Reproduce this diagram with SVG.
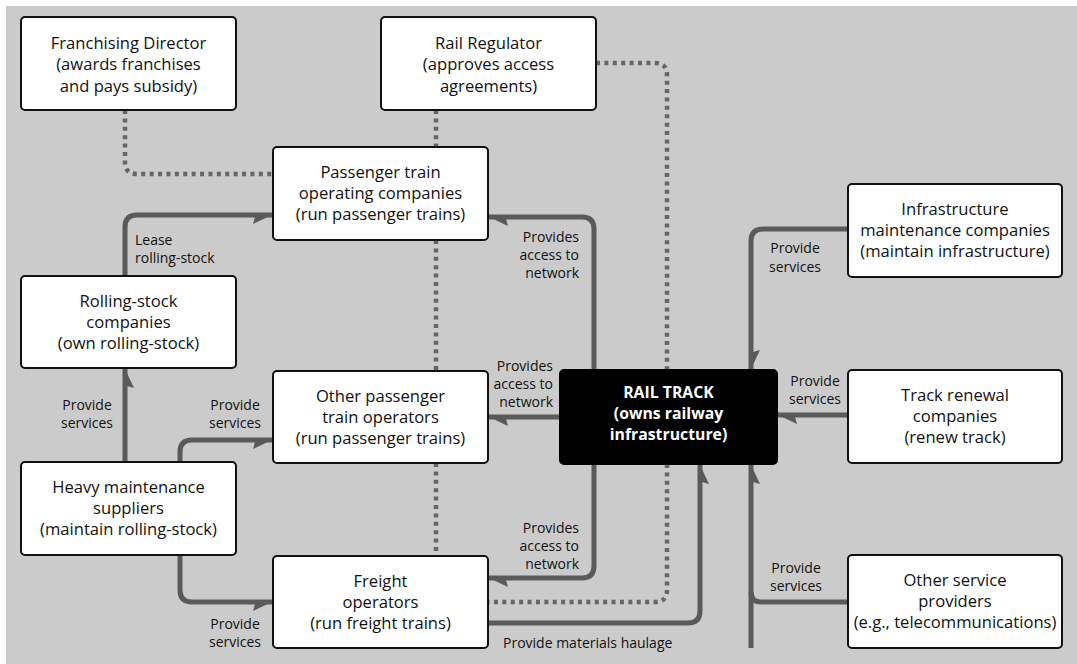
<svg xmlns="http://www.w3.org/2000/svg" width="1077" height="664" viewBox="0 0 1077 664">
<style>
.box{fill:#fff;stroke:#111;stroke-width:2}
.rt{fill:#000;stroke:#000;stroke-width:2}
.nt{font-family:"Open Sans","Noto Sans",sans-serif;font-size:16.6px;fill:#111;text-anchor:middle}
.rtt{font-family:"Open Sans","Noto Sans",sans-serif;font-size:15.8px;fill:#fff;font-weight:bold;text-anchor:middle}
.lb{font-family:"Open Sans","Noto Sans",sans-serif;font-size:14px;fill:#111}
.c{text-anchor:middle}.r{text-anchor:end}
.sol{fill:none;stroke:#5a5a5a;stroke-width:5}
.dot{fill:none;stroke:#666;stroke-width:4.5;stroke-dasharray:4 4.4}
</style>
<defs>
<marker id="aR" markerUnits="userSpaceOnUse" viewBox="-20 -10 22 20" markerWidth="22" markerHeight="20" refX="0" refY="0" orient="auto">
<path d="M0,0 L-17,2 L-19,9 Z" fill="#5a5a5a"/>
</marker>
<marker id="aL" markerUnits="userSpaceOnUse" viewBox="-20 -10 22 20" markerWidth="22" markerHeight="20" refX="0" refY="0" orient="auto">
<path d="M0,0 L-17,-2 L-19,-9 Z" fill="#5a5a5a"/>
</marker>
</defs>
<rect x="0" y="0" width="1077" height="664" fill="#fff"/>
<rect x="6" y="6" width="1071" height="658" fill="#cbcbcb"/>
<g id="connectors">
<path class="dot" d="M125,110 V162 Q125,174 137,174 H273"/>
<path class="dot" d="M436,110 V147"/>
<path class="dot" d="M596,63 H655 Q667,63 667,75 V369"/>
<path class="dot" d="M436,240 V371"/>
<path class="dot" d="M436,463 V556"/>
<path class="dot" d="M667,464 V590 Q667,602 655,602 H488"/>
<path class="sol" d="M125,276 V227 Q125,215 137,215 H272" marker-end="url(#aR)"/>
<path class="sol" d="M125,462 V369" marker-end="url(#aR)"/>
<path class="sol" d="M180,462 V452 Q180,440 192,440 H272" marker-end="url(#aR)"/>
<path class="sol" d="M180,555 V590 Q180,602 192,602 H272" marker-end="url(#aR)"/>
<path class="sol" d="M594,370 V229 Q594,217 582,217 H489" marker-end="url(#aL)"/>
<path class="sol" d="M560,417 H489" marker-end="url(#aL)"/>
<path class="sol" d="M594,464 V566 Q594,578 582,578 H489" marker-end="url(#aL)"/>
<path class="sol" d="M488,623 H688 Q700,623 700,611 V465" marker-end="url(#aR)"/>
<path class="sol" d="M848,229 H763 Q751,229 751,241 V369" marker-end="url(#aL)"/>
<path class="sol" d="M848,415 H778" marker-end="url(#aL)"/>
<path class="sol" d="M751,648 V465" marker-end="url(#aR)"/>
<path class="sol" d="M848,602 H761 Q751,602 751,592"/>
<text class="lb" x="135" y="245">Lease</text>
<text class="lb" x="135" y="263">rolling-stock</text>
<text class="lb c" x="87" y="410">Provide</text>
<text class="lb c" x="87" y="428">services</text>
<text class="lb c" x="235" y="410">Provide</text>
<text class="lb c" x="235" y="428">services</text>
<text class="lb c" x="235" y="629">Provide</text>
<text class="lb c" x="235" y="647">services</text>
<text class="lb r" x="579" y="242">Provides</text>
<text class="lb r" x="579" y="260">access to</text>
<text class="lb r" x="579" y="278">network</text>
<text class="lb r" x="553" y="371">Provides</text>
<text class="lb r" x="553" y="389">access to</text>
<text class="lb r" x="553" y="407">network</text>
<text class="lb r" x="579" y="533">Provides</text>
<text class="lb r" x="579" y="551">access to</text>
<text class="lb r" x="579" y="569">network</text>
<text class="lb" x="503" y="648">Provide materials haulage</text>
<text class="lb c" x="795" y="253">Provide</text>
<text class="lb c" x="795" y="272">services</text>
<text class="lb c" x="815" y="386">Provide</text>
<text class="lb c" x="815" y="404">services</text>
<text class="lb c" x="796" y="573">Provide</text>
<text class="lb c" x="796" y="591">services</text>
</g>
<g id="franchising-director">
<rect class="box" x="21" y="17" width="215" height="93" rx="4"/>
<text class="nt" x="128.5" y="49">Franchising Director</text>
<text class="nt" x="128.5" y="70">(awards franchises</text>
<text class="nt" x="128.5" y="92">and pays subsidy)</text>
</g>
<g id="rail-regulator">
<rect class="box" x="381" y="17" width="215" height="93" rx="4"/>
<text class="nt" x="488.5" y="49">Rail Regulator</text>
<text class="nt" x="488.5" y="70">(approves access</text>
<text class="nt" x="488.5" y="92">agreements)</text>
</g>
<g id="passenger-toc">
<rect class="box" x="273" y="147" width="215" height="93" rx="4"/>
<text class="nt" x="380.5" y="178">Passenger train</text>
<text class="nt" x="380.5" y="199">operating companies</text>
<text class="nt" x="380.5" y="220">(run passenger trains)</text>
</g>
<g id="infrastructure-maintenance">
<rect class="box" x="848" y="184" width="214" height="93" rx="4"/>
<text class="nt" x="955" y="215">Infrastructure</text>
<text class="nt" x="955" y="236">maintenance companies</text>
<text class="nt" x="955" y="257">(maintain infrastructure)</text>
</g>
<g id="rolling-stock">
<rect class="box" x="21" y="276" width="215" height="92" rx="4"/>
<text class="nt" x="128.5" y="307">Rolling-stock</text>
<text class="nt" x="128.5" y="328">companies</text>
<text class="nt" x="128.5" y="349">(own rolling-stock)</text>
</g>
<g id="other-passenger">
<rect class="box" x="273" y="371" width="215" height="92" rx="4"/>
<text class="nt" x="380.5" y="402">Other passenger</text>
<text class="nt" x="380.5" y="423">train operators</text>
<text class="nt" x="380.5" y="444">(run passenger trains)</text>
</g>
<g id="rail-track">
<rect class="rt" x="560" y="370" width="217" height="94" rx="4"/>
<text class="rtt" x="668.5" y="398">RAIL TRACK</text>
<text class="rtt" x="668.5" y="419">(owns railway</text>
<text class="rtt" x="668.5" y="440">infrastructure)</text>
</g>
<g id="track-renewal">
<rect class="box" x="848" y="370" width="214" height="93" rx="4"/>
<text class="nt" x="955" y="401">Track renewal</text>
<text class="nt" x="955" y="422">companies</text>
<text class="nt" x="955" y="443">(renew track)</text>
</g>
<g id="heavy-maintenance">
<rect class="box" x="21" y="462" width="215" height="93" rx="4"/>
<text class="nt" x="128.5" y="493">Heavy maintenance</text>
<text class="nt" x="128.5" y="514">suppliers</text>
<text class="nt" x="128.5" y="535">(maintain rolling-stock)</text>
</g>
<g id="freight-operators">
<rect class="box" x="273" y="556" width="215" height="92" rx="4"/>
<text class="nt" x="380.5" y="587">Freight</text>
<text class="nt" x="380.5" y="608">operators</text>
<text class="nt" x="380.5" y="629">(run freight trains)</text>
</g>
<g id="other-service-providers">
<rect class="box" x="848" y="555" width="214" height="93" rx="4"/>
<text class="nt" x="955" y="586">Other service</text>
<text class="nt" x="955" y="607">providers</text>
<text class="nt" x="955" y="628">(e.g., telecommunications)</text>
</g>
</svg>
